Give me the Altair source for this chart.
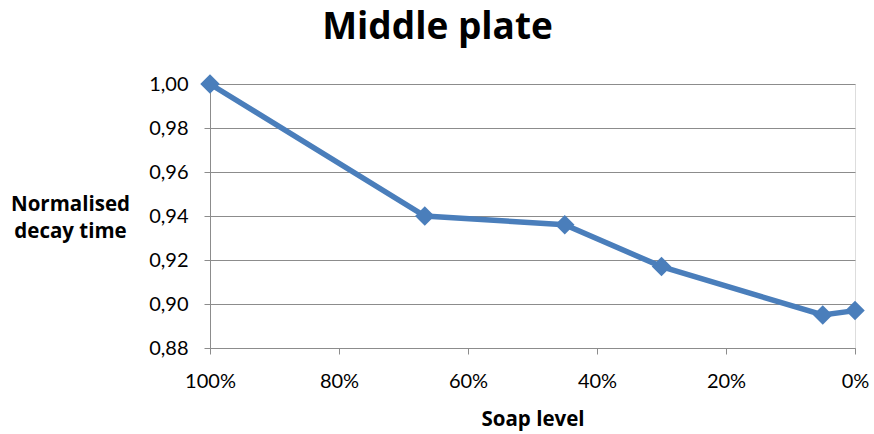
import altair as alt
import pandas as pd

# Soap level (%) and normalised decay time for the middle plate
soap_level = [100, 66.7, 45, 30, 5, 0]
decay_time = [1.000, 0.940, 0.936, 0.917, 0.895, 0.897]
x_ticks = [100, 80, 60, 40, 20, 0]
y_ticks = [0.88, 0.90, 0.92, 0.94, 0.96, 0.98, 1.00]

df = pd.DataFrame({"soap": soap_level, "decay": decay_time})

LABEL_FONT = "Lato"
TITLE_FONT = "Open Sans"
GRID = "#8c8c8c"
BLUE = "#4a7ebb"

base = alt.Chart(df).encode(
    x=alt.X(
        "soap:Q",
        scale=alt.Scale(domain=[0, 100], reverse=True, nice=False, zero=False),
        axis=alt.Axis(
            values=x_ticks,
            labelExpr="datum.value + '%'",
            labelFlush=False,
            title="Soap level",
            titleFontWeight="bold",
            titleFontSize=20.5,
            titleFont=TITLE_FONT,
            titleColor="black",
            titleBaseline="alphabetic",
            titleY=77,
            labelFont=LABEL_FONT,
            labelFontSize=20,
            labelColor="black",
            labelBaseline="alphabetic",
            labelPadding=33,
            tickSize=6,
            tickColor=GRID,
            domainColor=GRID,
            grid=False,
        ),
    ),
    y=alt.Y(
        "decay:Q",
        scale=alt.Scale(domain=[0.88, 1.00], nice=False, zero=False),
        axis=alt.Axis(
            values=y_ticks,
            labelExpr="replace(format(datum.value, '.2f'), '.', ',')",
            title=["Normalised", "decay time"],
            titleAngle=0,
            titleAlign="center",
            titleBaseline="alphabetic",
            titleX=-140,
            titleY=126,
            titleLineHeight=27,
            titleFontWeight="bold",
            titleFontSize=20.5,
            titleFont=TITLE_FONT,
            titleColor="black",
            labelFont=LABEL_FONT,
            labelFontSize=20,
            labelColor="black",
            labelPadding=16,
            tickSize=6,
            tickColor=GRID,
            domainColor=GRID,
            grid=True,
            gridColor=GRID,
        ),
    ),
)

line = base.mark_line(color=BLUE, strokeWidth=5.5)
points = base.mark_point(shape="diamond", filled=True, size=380, color=BLUE, opacity=1)

chart = (
    (line + points)
    .properties(
        width=645,
        height=264,
        title=alt.TitleParams(
            "Middle plate",
            font=TITLE_FONT,
            fontSize=37,
            fontWeight="bold",
            color="black",
            anchor="middle",
            baseline="alphabetic",
            dx=-95,
            dy=3,
            offset=0,
        ),
        autosize=alt.AutoSizeParams(type="none"),
        padding={"left": 210, "top": 84, "right": 19, "bottom": 86},
    )
    .configure_view(stroke=None)
    .configure(background="white")
)

chart.save("out.html", embed_options={"renderer": "svg", "actions": False})
